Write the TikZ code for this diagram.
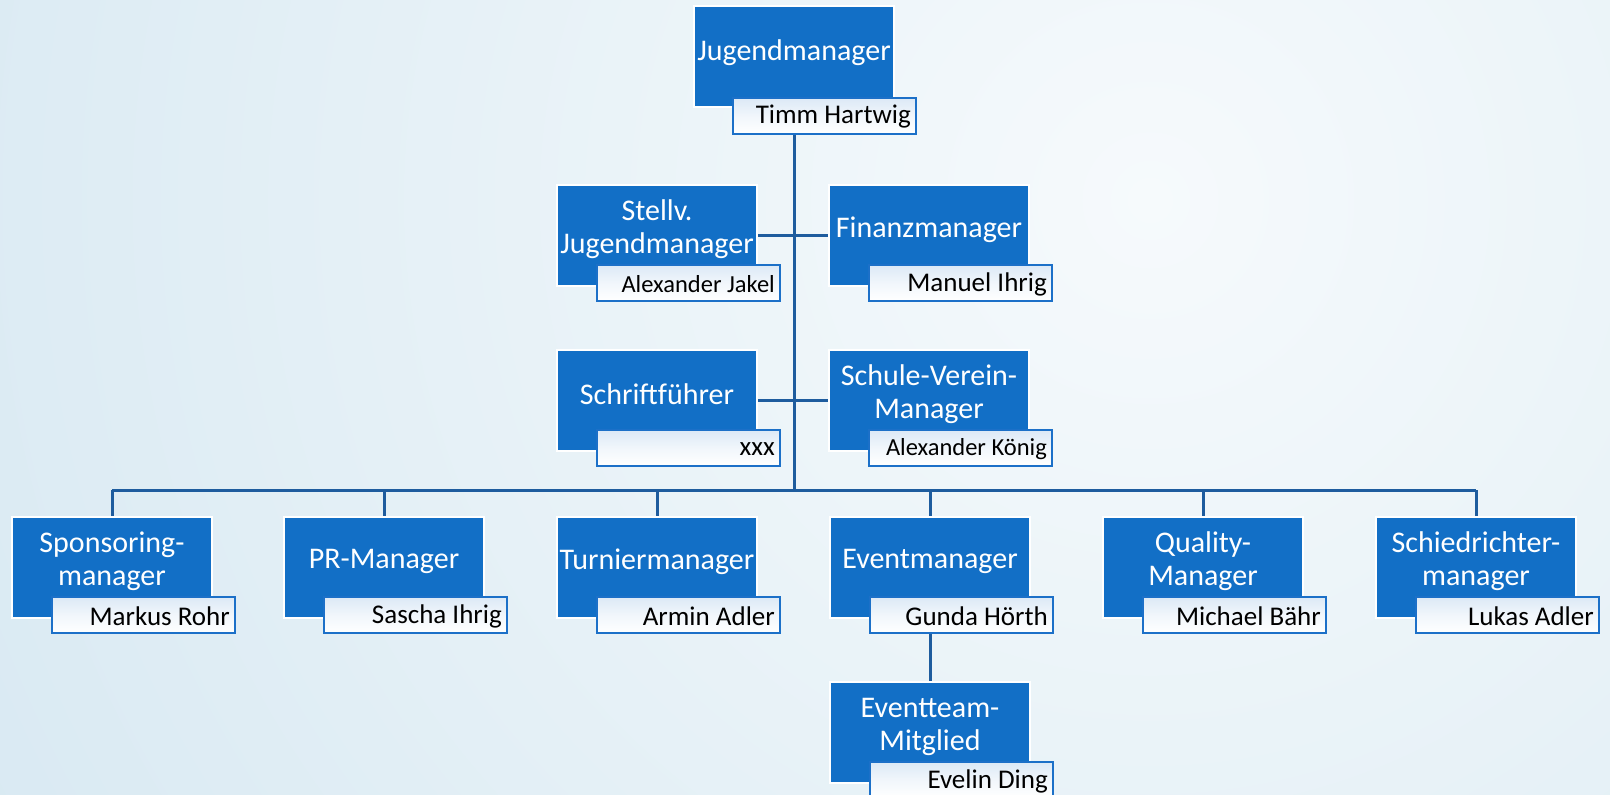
\documentclass[tikz,border=0pt]{standalone}
\usepackage{fontspec}
\setmainfont{Carlito}
\usetikzlibrary{calc}
\definecolor{boxblue}{RGB}{18,111,198}
\definecolor{linecol}{RGB}{30,92,158}
\definecolor{namebord}{RGB}{28,112,200}
\definecolor{palebox}{RGB}{220,233,246}
\definecolor{bgouter}{RGB}{204,226,238}
\definecolor{bginner}{RGB}{246,250,252}
\pgfdeclarelayer{bg}
\pgfdeclarelayer{lines}
\pgfsetlayers{bg,lines,main}
\tikzset{
  bluebox/.style={rectangle, fill=boxblue, draw=white, line width=2.5pt,
    minimum width=200pt, minimum height=101pt, inner sep=0pt, outer sep=0pt},
  titletext/.style={text=white, align=center, inner sep=0pt,
    font=\fontsize{30}{33}\selectfont},
  namebox/.style={rectangle, draw=namebord, line width=2.5pt,
    top color=palebox, bottom color=white, middle color=white!60!palebox,
    minimum width=183pt, minimum height=36pt, inner sep=0pt, outer sep=0pt},
  nametext/.style={text=black, inner sep=0pt, font=\fontsize{27}{30}\selectfont},
  smallname/.style={font=\fontsize{24.5}{28}\selectfont},
  conn/.style={draw=linecol, line width=3pt}
}
\newcommand\orgbox[6][]{%
  \node[bluebox, anchor=north west] (#2) at (#3,#4) {};
  \node[titletext] (#2-t) at ([yshift=6pt]#2.center) {#5};
  \node[namebox, anchor=north west] (#2-n) at ($(#2.north west)+(40,80)$) {};
  \node[nametext, #1, anchor=east] (#2-p) at ([xshift=-5pt, yshift=-1pt]#2-n.east) {#6};
}
\begin{document}
\begin{tikzpicture}[x=1pt, y=-1pt]
\useasboundingbox (0,0) rectangle (1610,795);
\begin{pgfonlayer}{bg}
  \fill[bgouter] (0,0) rectangle (1610,795);
  \begin{scope}
    \clip (0,0) rectangle (1610,795);
    \shade[inner color=bginner, outer color=bgouter] (1150,200) circle (1900);
  \end{scope}
\end{pgfonlayer}

% root
\node[bluebox, anchor=north west] (root) at (694,6) {};
\node[titletext] (root-t) at ([yshift=4pt]root.center) {Jugendmanager};
\node[namebox, anchor=north west] (root-n) at (733,98) {};
\node[nametext, anchor=east] (root-p) at ([xshift=-5pt, yshift=-1pt]root-n.east) {Timm Hartwig};

\orgbox[smallname]{stellv}{557}{185}{Stellv.\\Jugendmanager}{Alexander Jakel}
\orgbox{finanz}{829}{185}{Finanzmanager}{Manuel Ihrig}
\orgbox{schrift}{557}{350}{Schriftführer}{xxx}
\orgbox[smallname]{schule}{829}{350}{Schule-Verein-\\Manager}{Alexander König}

\orgbox{spons}{12}{517}{Sponsoring-\\manager}{Markus Rohr}
\orgbox{pr}{284}{517}{PR-Manager}{Sascha Ihrig}
\orgbox{turnier}{557}{517}{Turniermanager}{Armin Adler}
\orgbox{event}{830}{517}{Eventmanager}{Gunda Hörth}
\orgbox{quality}{1103}{517}{Quality-\\Manager}{Michael Bähr}
\orgbox{schied}{1376}{517}{Schiedrichter-\\manager}{Lukas Adler}

\orgbox{team}{830}{682}{Eventteam-\\Mitglied}{Evelin Ding}

\coordinate (bus) at ($(root.south)+(0,383)$);
\begin{pgfonlayer}{lines}
  \draw[conn] (root.south) -- (bus);
  \draw[conn] (stellv.east) -- (finanz.west);
  \draw[conn] (schrift.east) -- (schule.west);
  \draw[conn] (spons.north |- bus) -- (schied.north |- bus);
  \foreach \b in {spons,pr,turnier,event,quality,schied}
    \draw[conn] (\b.north) -- (\b.north |- bus);
  \draw[conn] (event.south) -- (team.north);
\end{pgfonlayer}
\end{tikzpicture}
\end{document}
